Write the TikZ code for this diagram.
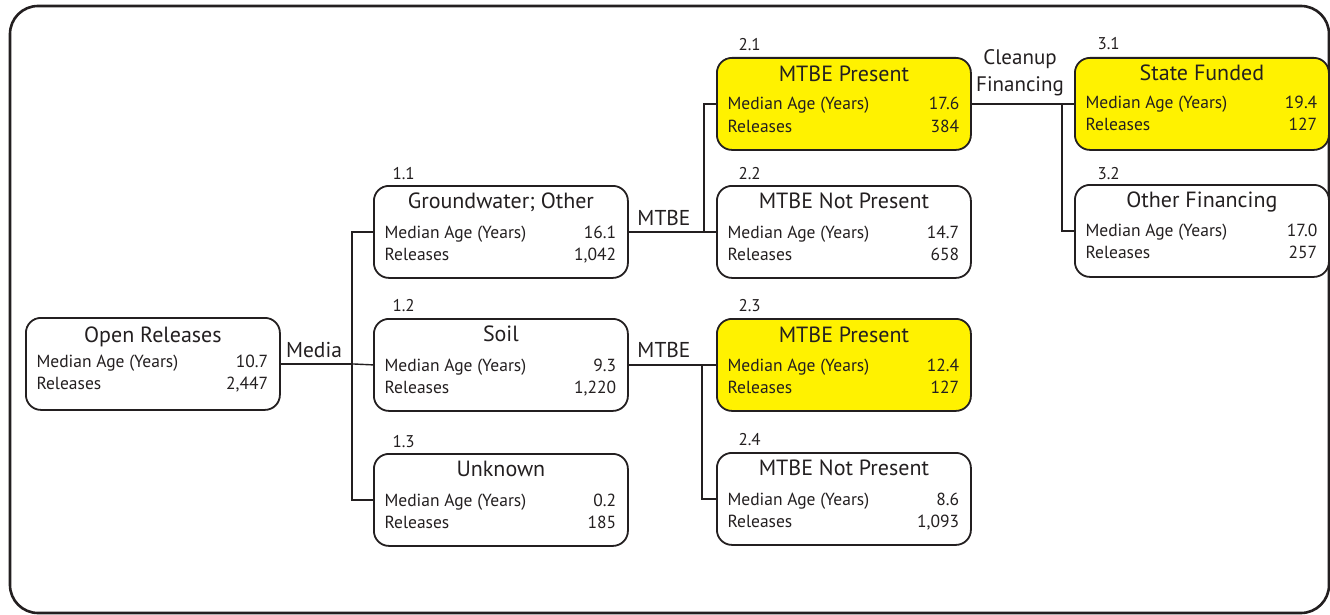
\documentclass[tikz,border=0pt]{standalone}
\usepackage{fontspec}
\setmainfont{PT Sans}
\usetikzlibrary{calc}
\definecolor{ink}{HTML}{231F20}
\definecolor{hl}{HTML}{FFF200}
\tikzset{
  treebox/.style={draw=ink, line width=1.8pt, rounded corners=15pt, minimum width=254pt, minimum height=92pt, inner sep=0pt, anchor=north west},
  ttl/.style={font=\fontsize{22}{25}\selectfont, text=ink, anchor=base},
  row/.style={font=\fontsize{17.5}{20}\selectfont, text=ink},
  num/.style={font=\fontsize{17}{20}\selectfont, text=ink, anchor=base west},
  lbl/.style={font=\fontsize{21.5}{25}\selectfont, text=ink, align=center},
  conn/.style={draw=ink, line width=1.4pt},
  frame/.style={draw=ink, line width=2.6pt, rounded corners=28pt}
}
% name, x, y, fill, title, value1, value2, title offset, row1 offset
\newcommand\treeboxdraw[9]{%
  \node[treebox, fill=#4] (#1) at (#2,#3) {};
  \node[ttl] at ($(#1.north)+(0,#8+7.7)$) {#5};
  \node[row, anchor=base west] at ($(#1.north west)+(8,#9+6)$) {Median Age (Years)};
  \node[row, anchor=base east] at ($(#1.north east)+(-9,#9+6)$) {#6};
  \node[row, anchor=base west] at ($(#1.north west)+(8,#9+28)$) {Releases};
  \node[row, anchor=base east] at ($(#1.north east)+(-9,#9+28)$) {#7};
}
\begin{document}
\begin{tikzpicture}[x=1pt,y=-1pt]
\useasboundingbox (0,0) rectangle (1330,615);
\draw[frame] (10,6) rectangle (1329,613);

\treeboxdraw{n0}{25}{317}{white}{Open Releases}{10.7}{2,447}{18}{44}
\treeboxdraw{n11}{373}{185}{white}{Groundwater; Other}{16.1}{1,042}{16}{47}
\treeboxdraw{n12}{373}{318}{white}{Soil}{9.3}{1,220}{16}{47}
\treeboxdraw{n13}{373}{453}{white}{Unknown}{0.2}{185}{16}{47}
\treeboxdraw{n21}{716}{57}{hl}{MTBE Present}{17.6}{384}{17}{47}
\treeboxdraw{n22}{716}{185}{white}{MTBE Not Present}{14.7}{658}{16}{47}
\treeboxdraw{n23}{716}{318}{hl}{MTBE Present}{12.4}{127}{17}{47}
\treeboxdraw{n24}{716}{452}{white}{MTBE Not Present}{8.6}{1,093}{16}{47}
\treeboxdraw{n31}{1074}{57}{hl}{State Funded}{19.4}{127}{16}{46}
\treeboxdraw{n32}{1074}{184}{white}{Other Financing}{17.0}{257}{16}{46}

\node[num] (l11) at (389,179) {1.1};
\node[num] (l12) at (389,311) {1.2};
\node[num] (l13) at (389,447) {1.3};
\node[num] (l21) at (735,51) {2.1};
\node[num] (l22) at (735,179) {2.2};
\node[num] (l23) at (735,311) {2.3};
\node[num] (l24) at (735,445) {2.4};
\node[num] (l31) at (1094,50) {3.1};
\node[num] (l32) at (1094,179) {3.2};

% connectors
\draw[conn] (n0.east) -- ++(71,0) coordinate (j1);
\draw[conn] (n11.west) -| (j1);
\draw[conn] (n13.west) -| (j1);
\draw[conn] (n12.west) -- (j1);

\draw[conn] (n11.east) -- (n22.west);
\coordinate (j2) at ($(n22.west)+(-12,0)$);
\draw[conn] (n21.west) -| (j2);

\draw[conn] (n12.east) -- (n23.west);
\coordinate (j3) at ($(n23.west)+(-14,0)$);
\draw[conn] (n24.west) -| (j3);

\draw[conn] (n21.east) -- (n31.west);
\coordinate (j4) at ($(n31.west)+(-12,0)$);
\draw[conn] (n32.west) -| (j4);

\node[lbl] (media) at (314,350) {Media};
\node[lbl] (mtbe1) at (664,218) {MTBE};
\node[lbl] (mtbe2) at (664,350) {MTBE};
\node[lbl, font=\fontsize{21}{27}\selectfont] (cf) at (1020,73) {Cleanup\\Financing};
\end{tikzpicture}
\end{document}
